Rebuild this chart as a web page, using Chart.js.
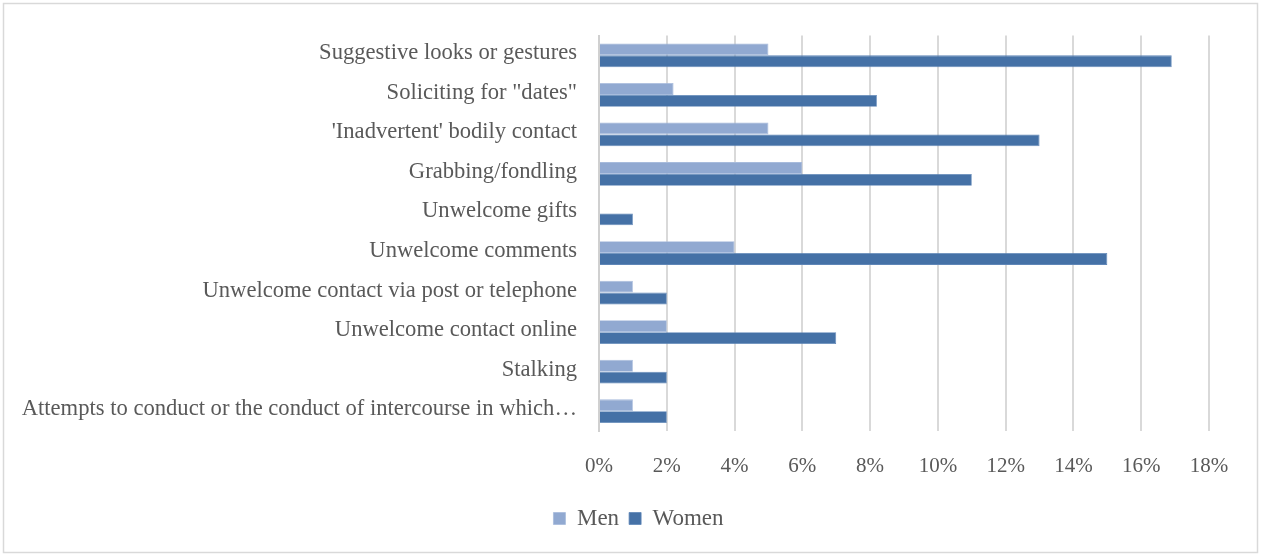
<!DOCTYPE html>
<html>
<head>
<meta charset="utf-8">
<script src="https://cdn.jsdelivr.net/npm/chart.js@4.4.1/dist/chart.umd.min.js"></script>
<style>
html,body{margin:0;padding:0;background:#fff;}
#wrap{position:relative;width:1261px;height:556px;}
</style>
</head>
<body>
<div id="wrap"><canvas id="c" width="1261" height="556"></canvas></div>
<script>
const categories = [
  "Suggestive looks or gestures",
  "Soliciting for \"dates\"",
  "'Inadvertent' bodily contact",
  "Grabbing/fondling",
  "Unwelcome gifts",
  "Unwelcome comments",
  "Unwelcome contact via post or telephone",
  "Unwelcome contact online",
  "Stalking",
  "Attempts to conduct or the conduct of intercourse in which…"
];
const men   = [5, 2.2, 5, 6, 0, 4, 1, 2, 1, 1];
const women = [16.9, 8.2, 13, 11, 1, 15, 2, 7, 2, 2];
const xTicks = [0, 2, 4, 6, 8, 10, 12, 14, 16, 18];

const FONT = "'Liberation Serif', 'DejaVu Serif', serif";
const TXT = '#595959';

const framePlugin = {
  id: 'frame',
  beforeDraw(chart) {
    const ctx = chart.ctx;
    ctx.save();
    ctx.fillStyle = '#fff';
    ctx.fillRect(0, 0, chart.width, chart.height);
    ctx.strokeStyle = '#d9d9d9';
    ctx.lineWidth = 1.5;
    ctx.strokeRect(3.5, 3.5, chart.width - 7, chart.height - 7);
    ctx.restore();
  },
  afterLayout(chart) {
    const lg = chart.legend;
    if (lg) { lg.left += 34; lg.right += 34; }
  }
};

new Chart(document.getElementById('c'), {
  type: 'bar',
  data: {
    labels: categories,
    datasets: [
      { label: 'Men', data: men, backgroundColor: '#91a9d1', borderColor: '#a7bbdc', borderWidth: 0.8 },
      { label: 'Women', data: women, backgroundColor: '#4571a6', borderColor: '#5f86b7', borderWidth: 0.8 }
    ]
  },
  options: {
    indexAxis: 'y',
    responsive: false,
    animation: false,
    devicePixelRatio: 1,
    datasets: { bar: { categoryPercentage: 0.6, barPercentage: 1.0 } },
    layout: { padding: { top: 33, right: 52, bottom: 16, left: 0 } },
    plugins: {
      legend: {
        position: 'bottom',
        labels: {
          boxWidth: 12, boxHeight: 12, padding: 10,
          color: TXT,
          font: { family: FONT, size: 23 }
        }
      },
      tooltip: { enabled: false }
    },
    scales: {
      x: {
        min: 0, max: 18,
        afterBuildTicks(scale) { scale.ticks = xTicks.map(v => ({ value: v })); },
        afterFit(scale) { scale.height = 66; },
        ticks: {
          padding: 23,
          color: TXT,
          font: { family: FONT, size: 21 },
          callback: v => v + '%'
        },
        grid: { color: '#d9d9d9', lineWidth: 2, drawTicks: false },
        border: { display: false }
      },
      y: {
        afterFit(scale) { scale.width = 599; },
        ticks: {
          padding: 22,
          labelOffset: -2,
          color: TXT,
          font: { family: FONT, size: 22.6 },
          autoSkip: false
        },
        grid: { display: false, drawTicks: false },
        border: { display: true, color: '#d0d0d0', width: 2 }
      }
    }
  },
  plugins: [framePlugin]
});
</script>
</body>
</html>
